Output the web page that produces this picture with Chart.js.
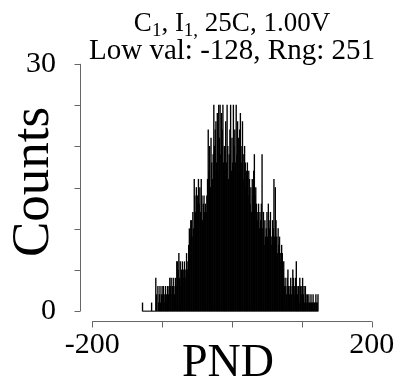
<!DOCTYPE html>
<html>
<head>
<meta charset="utf-8">
<script src="https://cdn.jsdelivr.net/npm/chart.js@4"></script>
<style>
  html, body { margin: 0; padding: 0; background: #fff; }
  #wrap { width: 406px; height: 380px; }
</style>
</head>
<body>
<div id="wrap"><canvas id="myChart" width="406" height="380"></canvas></div>
<script>
// histogram of PND, one bin per integer from lowVal to lowVal + range
var lowVal = -128;
var range = 251;
var counts = [
  1, 0, 0, 0, 0, 0, 0, 0, 0, 0,
  0, 0, 0, 1, 0, 0, 0, 0, 0, 4,
  2, 0, 3, 1, 2, 3, 1, 2, 3, 2,
  3, 2, 1, 3, 2, 1, 3, 2, 3, 4,
  3, 4, 2, 3, 4, 3, 2, 4, 3, 6,
  6, 5, 7, 4, 6, 3, 5, 6, 4, 5,
  6, 5, 4, 7, 5, 6, 8, 10, 9, 11,
  11, 9, 12, 10, 16, 14, 12, 15, 13, 14,
  16, 13, 15, 12, 16, 14, 11, 13, 14, 12,
  13, 12, 14, 16, 22, 17, 20, 15, 21, 18,
  16, 19, 25, 20, 22, 23, 18, 24, 17, 25,
  21, 25, 19, 24, 22, 25, 18, 20, 17, 23,
  18, 25, 20, 16, 19, 22, 25, 17, 21, 18,
  25, 20, 22, 18, 25, 19, 23, 21, 17, 22,
  24, 20, 18, 23, 19, 16, 20, 18, 15, 17,
  18, 14, 17, 16, 13, 15, 12, 16, 14, 17,
  19, 14, 15, 13, 11, 12, 13, 10, 12, 11,
  13, 19, 10, 12, 8, 11, 9, 10, 12, 9,
  13, 11, 10, 12, 8, 9, 11, 10, 16, 9,
  15, 11, 9, 7, 10, 8, 9, 7, 6, 8,
  7, 5, 6, 3, 4, 3, 2, 4, 5, 3,
  2, 3, 4, 2, 3, 5, 4, 3, 2, 4,
  6, 3, 2, 3, 1, 4, 3, 2, 3, 4,
  2, 3, 1, 3, 2, 1, 2, 1, 2, 1,
  1, 2, 1, 1, 2, 1, 1, 1, 2, 1,
  1, 2
];
var xTickValues = [-200, -100, 0, 100, 200];
var xTickLabels = [-200, 200];
var yTickValues = [0, 5, 10, 15, 20, 25, 30];
var yTickLabels = [0, 30];

var serif = "'Liberation Serif', 'DejaVu Serif', serif";

// R style detached axes + titles
var rStyle = {
  id: 'rStyle',
  afterDraw(chart) {
    var c = chart.ctx;
    var xs = chart.scales.x, ys = chart.scales.y;
    var area = chart.chartArea;
    c.save();
    c.strokeStyle = '#666';
    c.lineWidth = 1;
    // y axis
    var ax = Math.round(area.left) - 0.5;
    c.beginPath();
    c.moveTo(ax, ys.getPixelForValue(0));
    c.lineTo(ax, ys.getPixelForValue(30));
    yTickValues.forEach(function (v) {
      var p = Math.round(ys.getPixelForValue(v)) + 0.5;
      c.moveTo(ax, p);
      c.lineTo(ax - 6, p);
    });
    c.stroke();
    // x axis
    var ay = Math.round(area.bottom) + 0.5;
    c.beginPath();
    c.moveTo(xs.getPixelForValue(-200), ay);
    c.lineTo(xs.getPixelForValue(200), ay);
    xTickValues.forEach(function (v) {
      var p = Math.round(xs.getPixelForValue(v)) + 0.5;
      c.moveTo(p, ay);
      c.lineTo(p, ay + 6);
    });
    c.stroke();

    c.fillStyle = '#000';
    var cx = (area.left + area.right) / 2;
    // title line 1 with subscripts
    var parts = [
      ['C', 0], ['1', 1], [', I', 0], ['1,', 1], [' 25C, 1.00V', 0]
    ];
    var big = '27px ' + serif, small = '19px ' + serif;
    var w = 0;
    parts.forEach(function (p) {
      c.font = p[1] ? small : big;
      w += c.measureText(p[0]).width;
    });
    var x = cx - w / 2;
    c.textBaseline = 'alphabetic';
    c.textAlign = 'left';
    parts.forEach(function (p) {
      c.font = p[1] ? small : big;
      c.fillText(p[0], x, p[1] ? 36 : 31);
      x += c.measureText(p[0]).width;
    });
    // title line 2
    c.font = '29px ' + serif;
    c.textAlign = 'center';
    c.fillText('Low val: ' + lowVal + ', Rng: ' + range, cx, 59);
    // axis titles
    c.font = '46px ' + serif;
    c.fillText('PND', cx - 4, 376);
    c.save();
    c.translate(48, 182);
    c.rotate(-Math.PI / 2);
    c.font = '53px ' + serif;
    c.fillText('Counts', 0, 0);
    c.restore();
    c.restore();
  }
};

var points = counts.map(function (n, i) {
  return { x: lowVal + i, y: n };
});

const ctx = document.getElementById('myChart');
var myChart = new Chart(ctx, {
  type: 'bar',
  data: {
    datasets: [{
      data: points,
      backgroundColor: '#000',
      borderWidth: 0,
      barPercentage: 1,
      categoryPercentage: 1
    }]
  },
  options: {
    responsive: false,
    animation: false,
    layout: { padding: { top: 54, right: 23, left: 0, bottom: 0 } },
    scales: {
      x: {
        type: 'linear',
        offset: false,
        bounds: 'data',
        min: -216,
        max: 216,
        afterBuildTicks: (s) => { s.ticks = xTickLabels.map((v) => ({ value: v })); },
        afterFit: (s) => { s.height = 59; },
        grid: { display: false, drawTicks: false, offset: false },
        border: { display: false },
        ticks: {
          padding: 6,
          color: '#000',
          font: { family: serif, size: 30 },
          autoSkip: false,
          maxRotation: 0
        }
      },
      y: {
        min: -1.2,
        max: 31.2,
        afterBuildTicks: (s) => { s.ticks = yTickLabels.map((v) => ({ value: v })); },
        afterFit: (s) => { s.width = 81; },
        grid: { display: false, drawTicks: false },
        border: { display: false },
        ticks: {
          padding: 25,
          color: '#000',
          font: { family: serif, size: 30 }
        }
      }
    },
    plugins: {
      legend: { display: false },
      tooltip: { enabled: false }
    }
  },
  plugins: [rStyle]
});
</script>
</body>
</html>
